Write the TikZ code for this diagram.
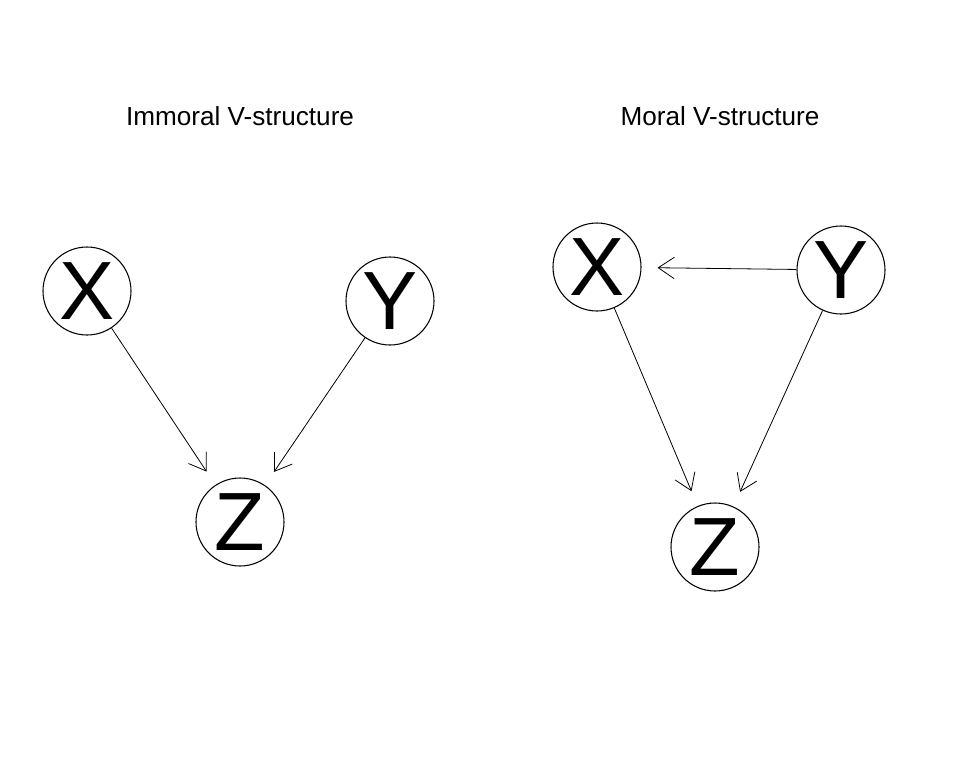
\documentclass[tikz,border=0pt]{standalone}
\usepackage{fontspec}
\setmainfont{Liberation Sans}
\usetikzlibrary{arrows.meta, shapes}

\begin{document}
\begin{tikzpicture}[x=0.75pt, y=-0.75pt, >={Straight Barb[length=12pt, width=16pt]}]
    \tikzstyle{every node} = [shape=circle, inner sep=0pt]
    \tikzstyle{var} = [draw, line width=0.8pt, minimum size=66pt, font=\fontsize{62}{62}\selectfont]
    \tikzstyle{title} = [shape=rectangle, font=\fontsize{19.6}{21}\selectfont]
    \tikzstyle{edge} = [->, line width=0.6pt, shorten >=12pt]
    \useasboundingbox (0, 0) rectangle (960, 768);
    % immoral
    \node (t1) [title] at (240, 116) {Immoral V-structure};
    \node (x1) [var] at (87, 291) {X};
    \node (y1) [var] at (390, 301) {Y};
    \node (z1) [var] at (240, 522) {Z};
    \draw [edge] (x1) -- (z1);
    \draw [edge] (y1) -- (z1);
    % moral
    \node (t2) [title] at (720, 116) {Moral V-structure};
    \node (x2) [var] at (597, 267) {X};
    \node (y2) [var] at (841, 270) {Y};
    \node (z2) [var] at (715, 547) {Z};
    \draw [edge] (y2) -- (x2);
    \draw [edge] (x2) -- (z2);
    \draw [edge] (y2) -- (z2);
\end{tikzpicture}
\end{document}
